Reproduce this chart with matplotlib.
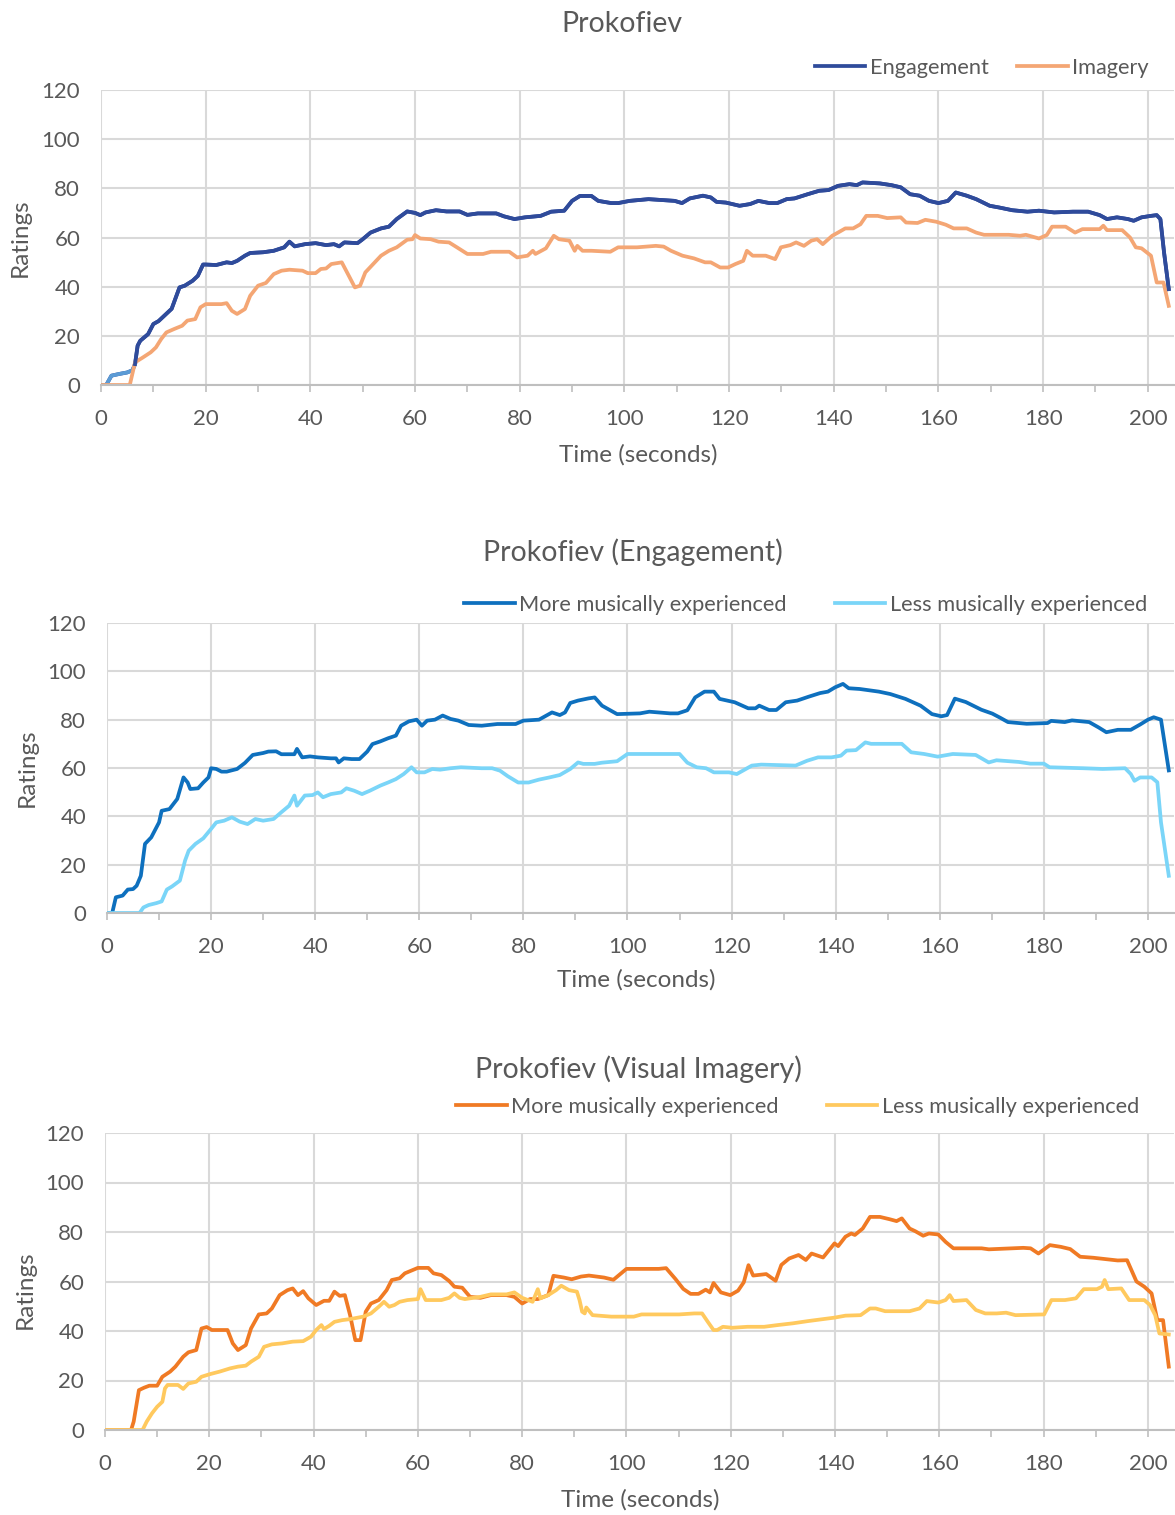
import matplotlib
matplotlib.use("Agg")
import matplotlib.pyplot as plt
from matplotlib.ticker import MultipleLocator

plt.rcParams['font.family'] = ['Lato', 'DejaVu Sans']

# ---------------- Data ----------------
# Chart 1: Prokofiev — Engagement vs Imagery
eng_t = [0, 1, 2, 3.5, 5, 6, 6.5, 7, 7.5, 9, 10, 11, 12, 13.5, 15, 16, 17.5, 18.5, 19.5, 20, 22, 24, 25, 26,
         27.5, 28.5, 31, 33, 35, 36, 37, 39, 41, 43, 44.5, 45.5, 46.5, 49, 50, 51.5, 53.5, 55, 56.5, 58.5, 60,
         61, 62, 64, 66, 68.5, 70, 72, 75.5, 77, 79, 81, 84, 86, 88.5, 90, 91.5, 93.7, 95, 97.5, 98.8, 101,
         104.6, 109.6, 111, 112.5, 115, 116.5, 117.6, 119.4, 122, 124, 125.6, 127.7, 129.2, 131, 132.5, 135,
         137.2, 139, 140.8, 143, 144.4, 145.5, 148.8, 151, 152.8, 154.6, 156.4, 158.2, 160, 161.8, 163.3,
         165.4, 167.2, 169.8, 171.6, 174.1, 177, 179.2, 182.1, 185.7, 188.6, 190.8, 192.2, 194.1, 196.2,
         197.3, 198.8, 200.6, 201.7, 202.4, 203.1, 204]
eng_v = [0, 0, 3.8, 4.5, 5.1, 6, 8.5, 16, 18, 20.7, 24.8, 26, 28, 31, 39.7, 40.4, 42.4, 44.4, 49, 49, 48.8,
         49.9, 49.6, 50.5, 52.6, 53.7, 54, 54.6, 56, 58.3, 56.4, 57.3, 57.7, 56.9, 57.3, 56.4, 58, 57.7, 59.3,
         62, 63.7, 64.4, 67.5, 70.6, 70, 69.1, 70.2, 71.1, 70.6, 70.6, 69.2, 69.8, 69.8, 68.6, 67.5, 68.2,
         68.8, 70.5, 70.9, 74.9, 76.9, 76.9, 74.9, 74, 74, 74.9, 75.6, 74.9, 74, 75.9, 77, 76.3, 74.5, 74.2,
         72.9, 73.6, 74.9, 74, 74, 75.6, 75.9, 77.6, 79, 79.3, 81, 81.7, 81.3, 82.4, 82, 81.3, 80.4, 77.6, 77,
         74.9, 74, 74.9, 78.3, 77, 75.6, 72.9, 72.2, 71.1, 70.5, 70.9, 70.2, 70.5, 70.5, 69.1, 67.5, 68.2,
         67.5, 66.8, 68.2, 68.8, 69.1, 67.5, 53.9, 39]
img_t = [0, 5.5, 6.5, 8, 9.5, 10.5, 11.5, 12.5, 14, 15.5, 16.5, 18, 19, 20, 23, 24, 25, 26, 27.5, 28.5, 30,
         31.5, 33, 34.5, 36, 38.5, 39.5, 41, 42, 43, 44, 46, 47.5, 48.5, 49.5, 50.5, 52, 53.5, 55, 56.5, 58.5,
         59.5, 60, 61, 63, 64.5, 66.5, 68, 70, 73, 74.5, 78, 79.5, 81.5, 82.5, 83, 85, 86.5, 87.5, 89.5, 90.5,
         91, 92, 93.7, 97.3, 98.8, 102.4, 106, 107.5, 108.9, 111.1, 113.3, 115.4, 116.5, 118.3, 119.8, 121.2,
         122.7, 123.4, 124.5, 127, 128.8, 129.9, 131.7, 132.8, 134.3, 135.7, 136.8, 137.9, 139.7, 140.8,
         142.2, 143.7, 145.1, 146.2, 148.4, 150.2, 152.8, 153.8, 156, 157.5, 159.6, 161.4, 162.9, 165.4,
         167.2, 168.7, 173.4, 175.6, 176.7, 179.2, 180.7, 181.7, 184.3, 186.1, 187.5, 190.8, 191.5, 192.2,
         195.1, 196.6, 197.7, 198.8, 200.6, 201.7, 203, 204]
img_v = [0, 0, 9.2, 11.2, 13.3, 15.3, 18.7, 21.4, 22.8, 24.1, 26.2, 26.8, 31.6, 32.9, 32.9, 33.3, 30.2, 28.9,
         30.9, 36.3, 40.4, 41.5, 45.1, 46.5, 46.9, 46.5, 45.5, 45.5, 47.2, 47.4, 49.2, 49.9, 43.8, 39.7, 40.4,
         45.8, 49.2, 52.6, 54.6, 56, 59.1, 59.3, 61, 59.6, 59.3, 58.3, 58, 56, 53.3, 53.3, 54.2, 54.2, 51.9,
         52.6, 54.6, 53.3, 55.6, 60.7, 59.3, 58.7, 54.6, 56.6, 54.6, 54.6, 54.2, 56, 56, 56.6, 56.3, 54.6,
         52.6, 51.5, 49.9, 49.9, 47.8, 47.8, 49.2, 50.5, 54.6, 52.6, 52.6, 51.2, 56, 56.9, 58, 56.6, 58.7,
         59.3, 57.3, 60.7, 62, 63.7, 63.7, 65.4, 68.8, 68.8, 67.9, 68.2, 66.1, 65.9, 67.2, 66.4, 65.2, 63.7,
         63.7, 62, 61.1, 61.1, 60.7, 61.1, 59.6, 61, 64.4, 64.4, 62, 63.4, 63.4, 64.8, 63, 63, 60, 56, 55.6,
         52.6, 41.7, 41.7, 32.2]

# Chart 2: Prokofiev (Engagement) — more vs less musically experienced
eng_more_t = [0, 1, 1.7, 3, 4, 5, 5.7, 6.5, 7.3, 8.5, 10, 10.5, 12, 13.5, 14.7, 15.5, 16, 17.5, 18.5, 19.5,
              20, 21, 22, 23, 25, 26.5, 28, 30, 31, 32.5, 33.5, 36, 36.5, 37.5, 39, 40.5, 43, 44, 44.5, 45.5,
              47, 48.5, 50, 51, 52.5, 54, 55.5, 56.5, 58, 59.5, 60.5, 61.5, 63, 64.5, 66, 67.5, 69.5, 72, 75,
              78.5, 80, 83, 85.5, 87, 88, 89, 90.5, 92.5, 93.7, 95.1, 98, 102.4, 104.2, 108.2, 109.7, 111.5,
              113, 114.8, 116.6, 117.7, 120.6, 123.2, 124.6, 125.3, 127.2, 128.6, 130.4, 132.6, 134.8, 137,
              138.5, 139.9, 141.4, 142.5, 144.6, 148.3, 150.5, 153.4, 156.3, 158.5, 160.3, 161.4, 162.9, 165,
              168, 170.1, 171.6, 173.1, 176.7, 180.7, 181.4, 184, 185.4, 188.7, 190.5, 192, 194.2, 196.7,
              198.5, 200, 201.1, 202.5, 204]
eng_more_v = [0, 0, 6.5, 7.2, 9.7, 9.9, 11.3, 15.4, 28.6, 31.3, 37.5, 42.3, 43, 47.2, 56.1, 54, 51.3, 51.6,
              54, 56.1, 59.9, 59.6, 58.5, 58.5, 59.6, 62.1, 65.4, 66.2, 66.8, 66.9, 65.7, 65.7, 67.9, 64.4,
              64.8, 64.4, 64, 64, 62.3, 64, 63.7, 63.7, 66.8, 69.9, 71, 72.3, 73.4, 77.5, 79.3, 80, 77.5, 79.6,
              80, 81.7, 80.3, 79.6, 77.8, 77.5, 78.2, 78.2, 79.6, 80, 83, 81.9, 83, 86.9, 87.9, 88.8, 89.2,
              85.8, 82.3, 82.6, 83.3, 82.6, 82.6, 83.9, 89.2, 91.6, 91.6, 88.6, 87.2, 84.7, 84.7, 85.8, 84,
              84, 87.2, 87.9, 89.5, 91, 91.6, 93.4, 94.8, 93, 92.7, 91.6, 90.6, 88.6, 85.8, 82.3, 81.4, 81.9,
              88.7, 87.3, 84.1, 82.5, 80.8, 79, 78.3, 78.6, 79.5, 79, 79.7, 79, 76.8, 74.8, 75.8, 75.8, 78,
              80, 81, 80, 59]
eng_less_t = [0, 6.25, 7, 8, 9.5, 10.5, 11.5, 12.5, 14, 15, 15.7, 17, 18.5, 20, 21, 22.5, 24, 25.5, 27, 28.5,
              30, 32, 33.5, 35, 36, 36.5, 38, 39.5, 40.5, 41.5, 43, 45, 46, 47.5, 49, 50.5, 52.5, 54, 55.5, 57,
              58.5, 59.5, 61, 62.5, 64, 66, 68, 72, 74, 75.5, 77, 79, 81, 83, 85, 87, 89, 90.5, 91.5, 93.7,
              95.1, 98, 100, 110, 111.5, 113.3, 115.1, 116.6, 119.5, 121, 123.9, 125.7, 132.3, 134.5, 136.6,
              139.2, 141, 142.1, 143.9, 145.7, 146.8, 152.7, 154.5, 157, 159.6, 162.5, 166.9, 169.4, 170.9,
              175.2, 177.4, 180, 181.1, 187.6, 191.3, 195.6, 196.7, 197.4, 198.5, 200.7, 201.8, 202.5, 204]
eng_less_v = [0, 0, 2.3, 3.3, 4.1, 4.8, 9.7, 11, 13.4, 21.7, 25.8, 28.6, 30.9, 34.8, 37.5, 38.2, 39.6, 37.8,
              36.8, 38.9, 38.2, 38.9, 41.7, 44.4, 48.6, 44.4, 48.6, 48.8, 49.9, 47.9, 49.2, 49.9, 51.6, 50.6,
              49.2, 50.6, 52.7, 54, 55.4, 57.5, 60.3, 58.2, 58.2, 59.6, 59.3, 59.9, 60.3, 59.9, 59.9, 58.9,
              56.6, 54, 54, 55.2, 56.1, 57.1, 59.6, 62.3, 61.7, 61.7, 62.2, 62.8, 65.8, 65.8, 62.2, 60.3, 59.9,
              58.2, 58.2, 57.5, 61, 61.4, 61, 63, 64.4, 64.4, 65.1, 67.2, 67.4, 70.6, 70, 70, 66.5, 65.8, 64.7,
              65.8, 65.4, 62.3, 63.2, 62.5, 61.8, 61.8, 60.3, 59.9, 59.6, 59.9, 57.5, 54.7, 56.1, 56.1, 54.1,
              37.5, 15.4]

# Chart 3: Prokofiev (Visual Imagery) — more vs less musically experienced
img_more_t = [0, 5, 5.5, 6.5, 7.5, 8.5, 10, 11, 12.5, 13.5, 15, 16, 17.5, 18.5, 19.5, 20.5, 23.5, 24.5, 25.5,
              27, 28, 29.5, 31, 32, 33.5, 35, 36, 37, 38, 39, 40.5, 42, 43, 44, 45, 46, 47, 48, 49, 50, 51,
              52.5, 54, 55, 56.5, 57.5, 59, 60, 62, 63, 64.5, 66, 67, 68.5, 70, 72, 74, 77, 78.5, 80, 81.5, 83,
              85, 86, 88, 89.5, 91.3, 92.8, 95.7, 97.5, 100, 106.2, 107.6, 109.4, 110.9, 112.3, 113.8, 115.2,
              116, 116.7, 118.1, 119.9, 121.4, 122.5, 123.4, 124.3, 126.8, 128.6, 129.7, 131.2, 133, 134.4,
              135.5, 137.7, 139.9, 140.6, 142, 143.1, 143.8, 145.3, 146.7, 148.6, 150.4, 151.8, 152.8, 154.3,
              155.4, 156.9, 158, 159.8, 161.2, 162.7, 168.1, 169.5, 176.1, 177.5, 179, 181.2, 183.3, 185.1,
              187, 189.5, 192, 194.2, 196, 197.8, 199.3, 200.7, 201.8, 202.9, 204]
img_more_v = [0, 0, 3.4, 16.1, 17.1, 17.9, 17.9, 21.5, 23.6, 25.6, 29.6, 31.4, 32.3, 41, 41.6, 40.4, 40.4,
              35, 32.3, 34.3, 41, 46.7, 47.1, 49.1, 54.5, 56.5, 57.2, 54.5, 56.1, 53.2, 50.5, 52.2, 52.2, 55.9,
              54.2, 54.5, 46.4, 36.3, 36.3, 47.8, 51.1, 52.5, 56.5, 60.6, 61.3, 63.3, 64.6, 65.5, 65.5, 63.3,
              62.6, 60.2, 57.9, 57.5, 53.8, 53.4, 54.5, 54.5, 53.8, 51.1, 52.9, 52.9, 54.5, 62.3, 61.6, 60.9,
              62, 62.4, 61.6, 60.7, 65.1, 65.1, 65.4, 61, 57, 55, 55, 56.7, 55.6, 59.4, 55.6, 54.5, 56.3, 59.7,
              66.6, 62.4, 63, 60.3, 66.7, 69.3, 70.7, 68.7, 71.3, 69.7, 75.4, 74.3, 78.1, 79.4, 78.8, 81.4,
              86.1, 86.1, 85.2, 84.4, 85.5, 81.4, 80.3, 78.5, 79.4, 79, 76, 73.4, 73.4, 73, 73.6, 73.4, 71.3,
              74.7, 74, 73.1, 70, 69.6, 69, 68.5, 68.6, 60, 57.9, 55.2, 44.4, 44.4, 25.6]
img_less_t = [0, 7.2, 8, 9, 10, 11, 11.5, 12, 14, 15, 16, 17.5, 18.5, 20, 22, 24, 25.5, 27, 28, 29.5, 30.5,
              32, 34, 36, 38, 39.5, 40.5, 41.5, 42, 43, 44, 45.5, 47, 48.5, 49.5, 51, 52.5, 53.5, 54.5, 55.5,
              56.5, 58, 60, 60.5, 61.5, 64.5, 66, 67, 68, 69, 72, 74, 77, 78.5, 80, 82, 83, 83.5, 85, 86.5,
              87.5, 89, 90.5, 91, 91.5, 92, 92.3, 93.5, 97.1, 101.4, 102.9, 110.1, 113, 114.5, 115.6, 116.7,
              117.4, 118.5, 120.3, 123.2, 126.4, 129, 131.9, 134.8, 137.7, 139.9, 142, 144.9, 146.7, 147.8,
              149.6, 154.3, 156.2, 157.6, 159.8, 161.2, 162, 162.7, 165.2, 167, 168.8, 171, 172.8, 174.6,
              180.1, 181.5, 184.1, 186.2, 187.7, 190.2, 191.2, 191.7, 192.4, 194.9, 196.4, 199.3, 200.4,
              201.4, 202.2, 204]
img_less_v = [0, 0, 3.4, 6.7, 9.4, 11.4, 16.8, 18.2, 18.2, 16.6, 18.8, 19.5, 21.5, 22.5, 23.6, 24.9, 25.6,
              26, 27.6, 29.6, 33.6, 34.6, 35, 35.7, 35.9, 37.7, 40.4, 42.4, 40.8, 42.1, 43.7, 44.4, 44.8,
              45.4, 45.8, 47.1, 49.8, 51.8, 49.8, 50.5, 51.8, 52.5, 52.9, 56.9, 52.5, 52.5, 53.4, 55.2, 53.4,
              52.9, 53.8, 54.8, 54.8, 55.6, 53.4, 51.8, 56.9, 53.2, 54.5, 56.5, 58.3, 56.5, 55.9, 52.5, 47.8,
              47.1, 49.5, 46.4, 45.8, 45.8, 46.7, 46.7, 47.1, 47.1, 43.7, 40.4, 40.4, 41.7, 41.3, 41.7, 41.7,
              42.4, 43.1, 44, 44.8, 45.4, 46.2, 46.4, 49.1, 49.1, 48, 48, 49.1, 52.1, 51.5, 52.5, 54.5, 52.1,
              52.5, 48.5, 47.1, 47.1, 47.4, 46.4, 46.7, 52.5, 52.5, 53.2, 56.9, 56.9, 57.9, 60.6, 56.9, 57.2,
              52.5, 52.5, 50.5, 46.4, 39, 38.6]

# ---------------- Styling ----------------
W, H = 1175, 1515
TXT = '#595959'
GRID = '#D9D9D9'
AXLINE = '#BFBFBF'
FS_TICK = 16
FS_LAB = 17.5
FS_TITLE = 20.5
FS_LEG = 15.7

fig = plt.figure(figsize=(W / 100, H / 100), dpi=100)


def px_axes(left, right, top, bottom):
    return fig.add_axes([left / W, 1 - bottom / H, (right - left) / W, (bottom - top) / H])


def style(ax):
    ax.set_xlim(0, 205)
    ax.set_ylim(0, 120)
    ax.xaxis.set_major_locator(MultipleLocator(20))
    ax.xaxis.set_minor_locator(MultipleLocator(10))
    ax.yaxis.set_major_locator(MultipleLocator(20))
    ax.grid(True, which='major', color=GRID, linewidth=1.5)
    ax.set_axisbelow(True)
    for s in ['top', 'right', 'left']:
        ax.spines[s].set_visible(False)
    ax.spines['bottom'].set_color(AXLINE)
    ax.spines['bottom'].set_linewidth(1.5)
    ax.tick_params(axis='x', which='both', colors=AXLINE, length=5, width=1.2, direction='out',
                   labelcolor=TXT, labelsize=FS_TICK, pad=12)
    ax.tick_params(axis='y', length=0, labelcolor=TXT, labelsize=FS_TICK, pad=15)


def ftext(x, y, s, size, **kw):
    fig.text(x / W, 1 - y / H, s, fontsize=size, color=TXT, ha='center', va='center', **kw)


def legend(ax, handles, right_px, y_px, colspace):
    ax.legend(handles=handles, ncol=2, frameon=False, fontsize=FS_LEG, labelcolor=TXT,
              loc='center right', bbox_to_anchor=(right_px / W, 1 - y_px / H),
              bbox_transform=fig.transFigure, handlelength=2.3, handletextpad=0.22,
              columnspacing=colspace, borderaxespad=0, borderpad=0)


LW = 2.7

# ---- Chart 1 ----
ax1 = px_axes(101, 1174, 90, 385)
style(ax1)
n_start = sum(1 for t in eng_t if t <= 6.5)
l1, = ax1.plot(eng_t, eng_v, color='#2F4B9B', lw=LW, label='Engagement', solid_joinstyle='round')
ax1.plot(eng_t[:n_start], eng_v[:n_start], color='#5B9BD5', lw=LW, solid_joinstyle='round')
l2, = ax1.plot(img_t, img_v, color='#F4A674', lw=LW, label='Imagery', solid_joinstyle='round')
ax1.plot(eng_t[n_start - 1:], eng_v[n_start - 1:], color='#2F4B9B', lw=LW, solid_joinstyle='round')
ftext(622, 24, 'Prokofiev', FS_TITLE)
ftext(638, 455, 'Time (seconds)', FS_LAB)
ftext(20, 238, 'Ratings', FS_LAB, rotation=90)
legend(ax1, [l1, l2], 1149, 68, 1.3)

# ---- Chart 2 ----
ax2 = px_axes(107, 1174, 623, 913)
style(ax2)
m1, = ax2.plot(eng_more_t, eng_more_v, color='#0E70BE', lw=LW, label='More musically experienced',
               solid_joinstyle='round')
m2, = ax2.plot(eng_less_t, eng_less_v, color='#7AD5F8', lw=LW, label='Less musically experienced',
               solid_joinstyle='round')
ftext(633, 552, 'Prokofiev (Engagement)', FS_TITLE)
ftext(636, 980, 'Time (seconds)', FS_LAB)
ftext(27, 768, 'Ratings', FS_LAB, rotation=90)
legend(ax2, [m1, m2], 1147, 605, 2.2)

# ---- Chart 3 ----
ax3 = px_axes(105, 1174, 1133, 1430)
style(ax3)
o1, = ax3.plot(img_more_t, img_more_v, color='#F07A24', lw=LW, label='More musically experienced',
               solid_joinstyle='round')
o2, = ax3.plot(img_less_t, img_less_v, color='#FFC95E', lw=LW, label='Less musically experienced',
               solid_joinstyle='round')
ftext(638, 1069, 'Prokofiev (Visual Imagery)', FS_TITLE)
ftext(640, 1500, 'Time (seconds)', FS_LAB)
ftext(25, 1290, 'Ratings', FS_LAB, rotation=90)
legend(ax3, [o1, o2], 1139, 1107, 2.2)

fig.savefig('out.png', dpi=100)
